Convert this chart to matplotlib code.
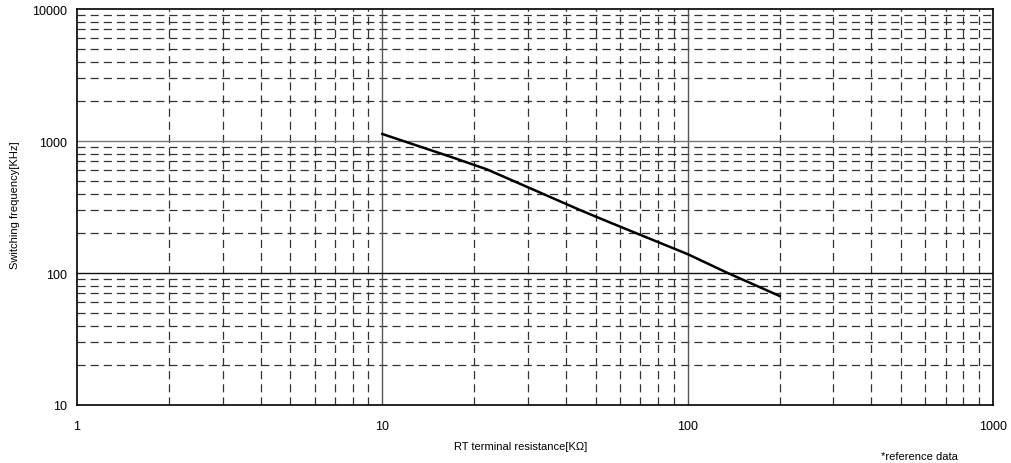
import matplotlib
matplotlib.use("Agg")
import matplotlib.pyplot as plt
from matplotlib.ticker import FixedLocator, NullFormatter

resistance_kohm = [10, 17, 22, 45, 56, 100, 134, 200]
frequency_khz = [1130, 750, 610, 296, 240, 139, 101, 67]
x_ticks = [1, 10, 100, 1000]
y_ticks = [10, 100, 1000, 10000]

plt.rcParams['font.family'] = ['Liberation Sans', 'DejaVu Sans']

fig = plt.figure(figsize=(10.12, 4.64), dpi=100)
ax = fig.add_axes([0.0761, 0.125, 0.9051, 0.8534])
ax.set_xscale('log')
ax.set_yscale('log')
ax.set_xlim(1, 1000)
ax.set_ylim(10, 10000)

minor_x = [m * 10**e for e in range(0, 3) for m in range(2, 10)]
minor_y = [m * 10**e for e in range(1, 4) for m in range(2, 10)]
ax.xaxis.set_major_locator(FixedLocator(x_ticks))
ax.yaxis.set_major_locator(FixedLocator(y_ticks))
ax.xaxis.set_minor_locator(FixedLocator(minor_x))
ax.yaxis.set_minor_locator(FixedLocator(minor_y))
ax.xaxis.set_minor_formatter(NullFormatter())
ax.yaxis.set_minor_formatter(NullFormatter())
ax.set_xticklabels([str(v) for v in x_ticks])
ax.set_yticklabels([str(v) for v in y_ticks])

dash = (0, (6.5, 4.0))
for v in minor_x:
    ax.axvline(v, color='#333333', lw=0.9, ls=dash, zorder=1)
for v in minor_y:
    ax.axhline(v, color='#333333', lw=0.9, ls=dash, zorder=1)
for v in x_ticks[1:-1]:
    ax.axvline(v, color='#555555', lw=1.0, zorder=1)
ax.axhline(1000, color='#777777', lw=1.0, zorder=1)
ax.axhline(100, color='#111111', lw=1.0, zorder=1)

ax.plot(resistance_kohm, frequency_khz, color='black', lw=1.8, zorder=3)

ax.tick_params(which='both', length=0, labelsize=9)
ax.tick_params(axis='x', pad=11)
ax.tick_params(axis='y', pad=7.5)
for s in ax.spines.values():
    s.set_linewidth(1.2)
    s.set_color('black')

ax.set_xlabel('RT terminal resistance[KΩ]', fontsize=8)
ax.set_ylabel('Switching frequency[KHz]', fontsize=8)
bbox = ax.get_position()
# place labels at pixel-matched positions
ax.xaxis.set_label_coords((521 - 77) / 916, (406 - 447) / 396)
ax.xaxis.label.set_va('center')
ax.yaxis.set_label_coords((15 - 77) / 916, (406 - 205) / 396)
ax.yaxis.label.set_va('center')
fig.text(919 / 1012, 1 - 457 / 464, '*reference data', fontsize=8, ha='center', va='center')

fig.savefig('out.png', dpi=100)
